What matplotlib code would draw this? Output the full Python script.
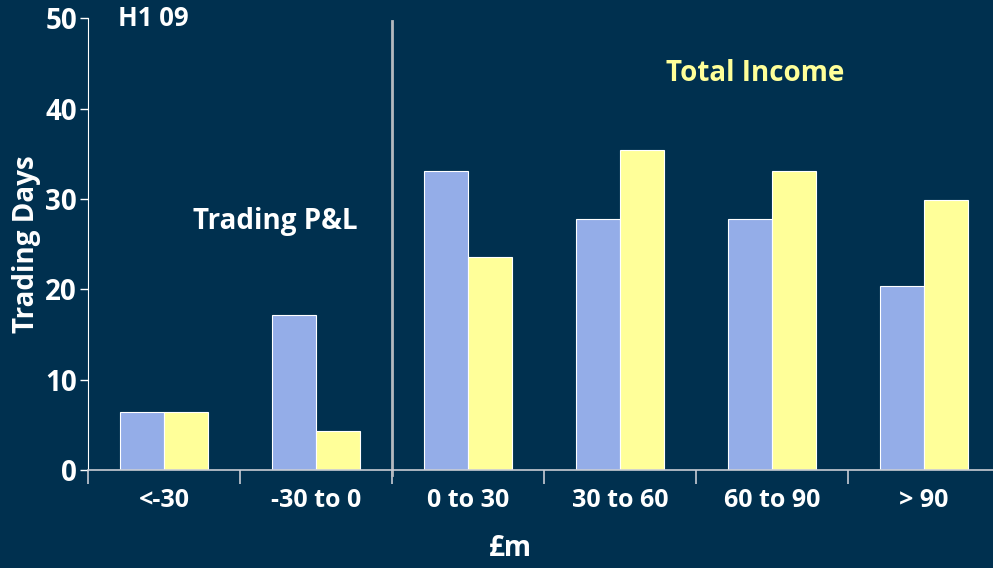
import matplotlib
matplotlib.use("Agg")
import matplotlib.pyplot as plt
import numpy as np

categories = ["<-30", "-30 to 0", "0 to 30", "30 to 60", "60 to 90", "> 90"]
trading_pl = [6.4, 17.2, 33.1, 27.8, 27.8, 20.4]
total_income = [6.4, 4.3, 23.6, 35.4, 33.1, 29.9]
y_ticks = [0, 10, 20, 30, 40, 50]

BG = "#00304F"
BLUE = "#94ADE8"
YELLOW = "#FFFF99"
FONT = ["Open Sans", "DejaVu Sans"]

plt.rcParams["font.family"] = FONT
plt.rcParams["font.weight"] = "bold"
plt.rcParams["axes.labelweight"] = "bold"

fig = plt.figure(figsize=(9.93, 5.68), dpi=100, facecolor=BG)
ax = fig.add_axes([88 / 993, 98 / 568, 912 / 993, (549.7 - 98) / 568])
ax.set_facecolor(BG)

x = np.arange(len(categories))
w = 0.29
ax.bar(x - w / 2, trading_pl, w, color=BLUE, edgecolor="white", linewidth=0.8)
ax.bar(x + w / 2, total_income, w, color=YELLOW, edgecolor="white", linewidth=0.8)

ax.set_xlim(-0.5, len(categories) - 0.5)
ax.set_ylim(0, 50)

# y axis
ax.set_yticks(y_ticks)
ax.tick_params(axis="y", colors="white", direction="out", length=6, width=1,
               labelsize=20, pad=2)
for lbl in ax.get_yticklabels():
    lbl.set_color("white")

# x axis: ticks on category boundaries, labels centred
ax.set_xticks(np.arange(-0.5, len(categories), 1.0))
ax.set_xticklabels([])
ax.set_xticks(x, minor=True)
ax.set_xticklabels(categories, minor=True, color="white", fontsize=18)
ax.tick_params(axis="x", which="major", colors="#C8CCD4", length=10, width=1.2,
               direction="out")
ax.tick_params(axis="x", which="minor", length=0, pad=13)

for s in ["top", "right"]:
    ax.spines[s].set_visible(False)
ax.spines["left"].set_color("white")
ax.spines["bottom"].set_color("#C8CCD4")
ax.spines["bottom"].set_linewidth(1.2)

# divider between the two groups of bands
ax.plot([1.5, 1.5], [-0.55, 49.7], color="#B4B8BE", linewidth=2, clip_on=False)

ax.set_ylabel("Trading Days", color="white", fontsize=20)
ax.yaxis.set_label_coords(-0.051, 0.5)

fig.text(118 / 993, 1 - 18 / 568, "H1 09", color="white", fontsize=18.5,
         ha="left", va="center")
fig.text(275 / 993, 1 - 221 / 568, "Trading P&L", color="white", fontsize=20,
         ha="center", va="center")
fig.text(755 / 993, 1 - 74 / 568, "Total Income", color=YELLOW, fontsize=20,
         ha="center", va="center")
fig.text(510 / 993, 1 - 549 / 568, "£m", color="white", fontsize=20,
         ha="center", va="center")

fig.savefig("out.png", dpi=100, facecolor=BG)
